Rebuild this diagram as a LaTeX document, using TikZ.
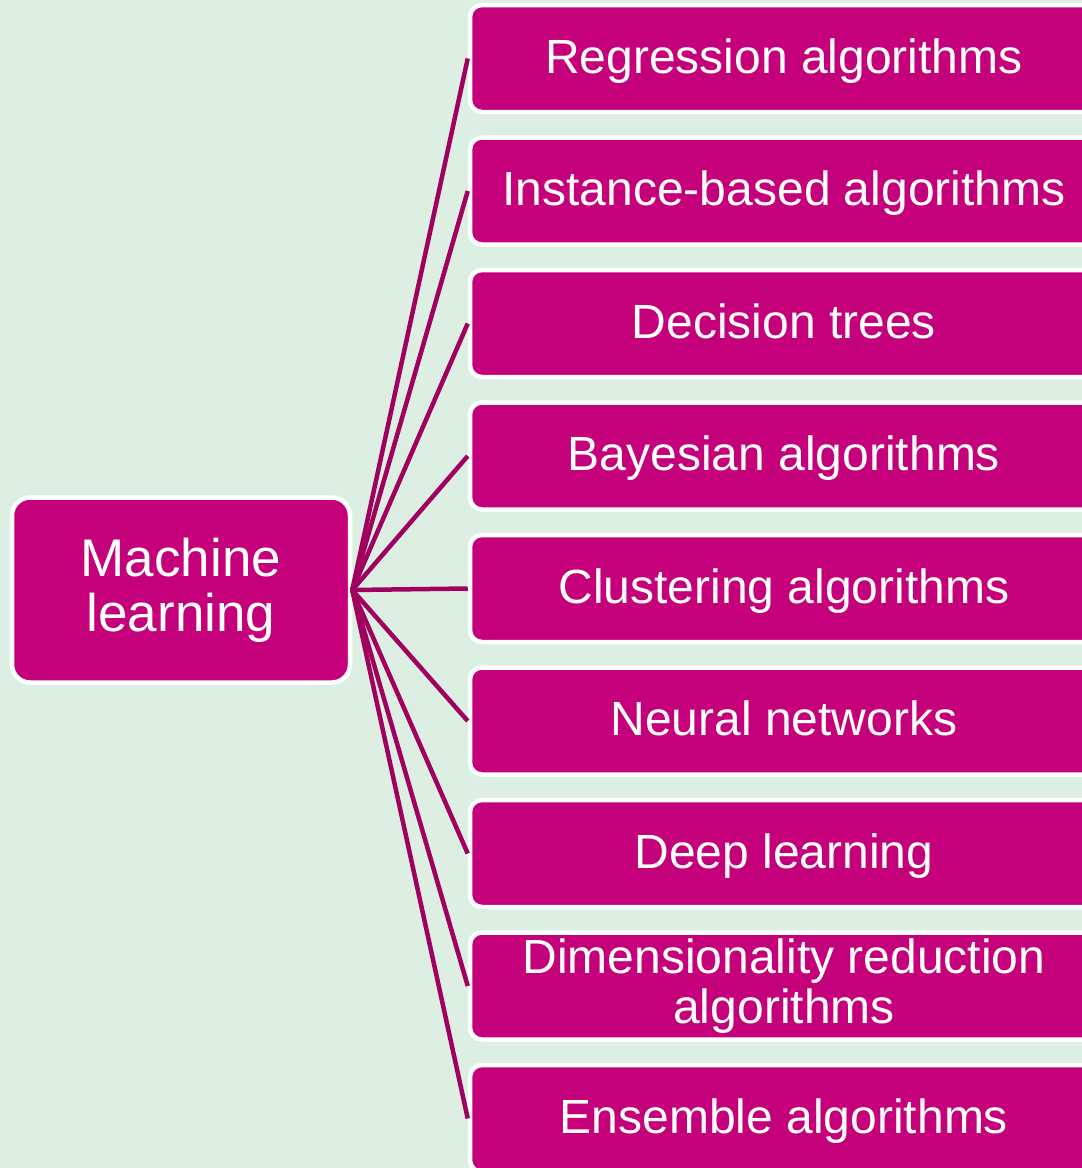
\documentclass[tikz,border=0pt]{standalone}
\usepackage{fontspec}
\setmainfont{Liberation Sans}
\definecolor{bg}{HTML}{DDEFE3}
\definecolor{mag}{HTML}{C4007A}
\definecolor{ln}{HTML}{A0005E}
\begin{document}
\begin{tikzpicture}[x=1pt,y=-1pt,
  box/.style={rectangle, rounded corners=12pt, fill=mag, draw=white, line width=4.5pt, text=white, align=center, inner sep=0pt},
  leafbase/.style={box, minimum width=628pt, minimum height=107pt, font=\fontsize{48}{50}\selectfont},
  leaf/.style={leafbase, text height=36pt, text depth=7pt},
  conn/.style={draw=ln, line width=4.5pt}]
\useasboundingbox (0,0) rectangle (1082,1168);
\clip (0,0) rectangle (1082,1168);
\fill[bg] (0,0) rectangle (1082,1168);
\node[box, minimum width=338pt, minimum height=185pt, rounded corners=18pt, font=\fontsize{53}{55}\selectfont] (ml) at (181,590) {Machine\\learning};
\node[leaf] (b1) at (784,58.5) {Regression algorithms};
\node[leaf] (b2) at (784,191) {Instance-based algorithms};
\node[leaf] (b3) at (784,323.5) {Decision trees};
\node[leaf] (b4) at (784,456) {Bayesian algorithms};
\node[leaf] (b5) at (784,588.5) {Clustering algorithms};
\node[leaf] (b6) at (784,721) {Neural networks};
\node[leaf] (b7) at (784,853.5) {Deep learning};
\node[leafbase] (b8) at (784,986) {\raisebox{-2pt}{Dimensionality reduction}\\\raisebox{-2pt}{algorithms}};
\node[leaf] (b9) at (784,1118.5) {Ensemble algorithms};
\foreach \b in {b1,b2,b3,b4,b5,b6,b7,b8,b9}
  \draw[conn] (ml.east) -- (\b.west);
\end{tikzpicture}
\end{document}
